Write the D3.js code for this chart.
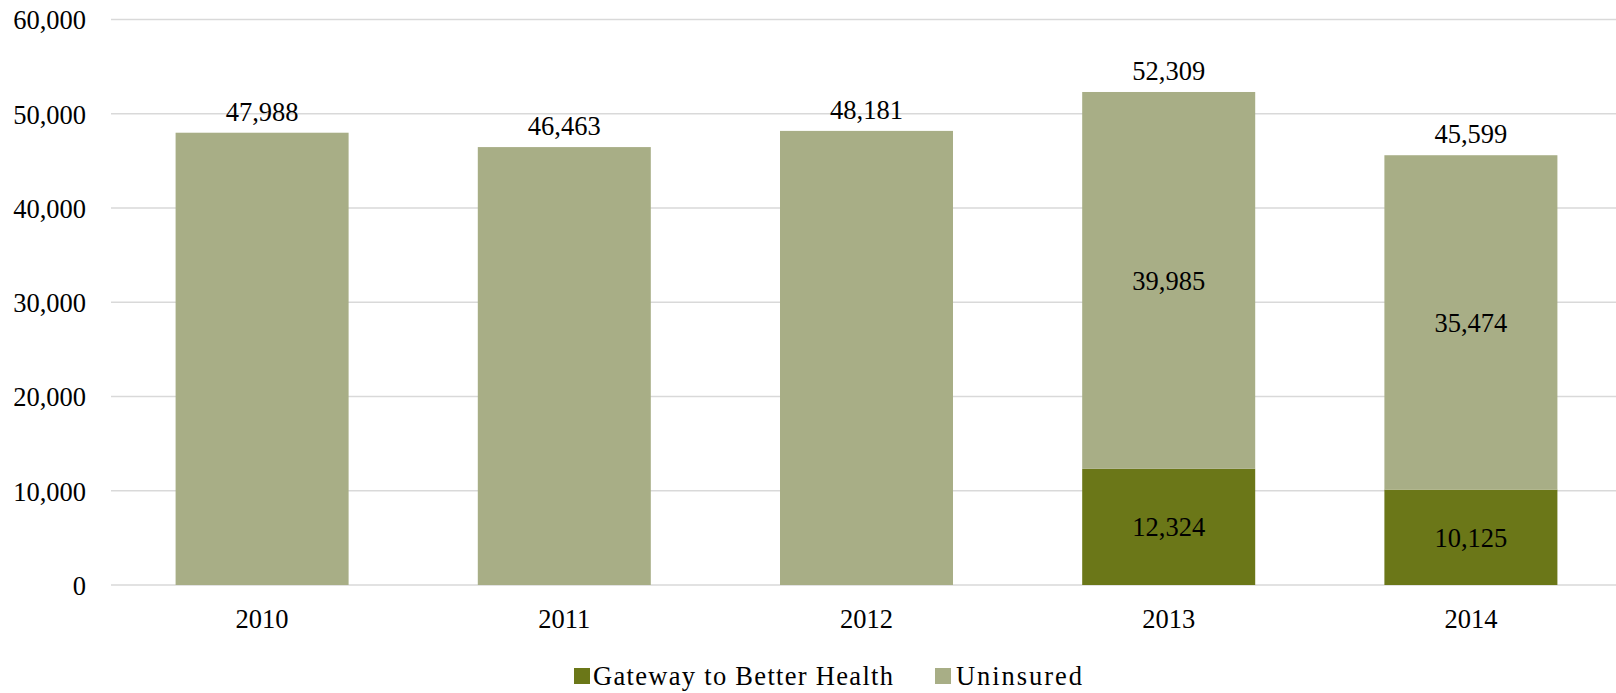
<!DOCTYPE html>
<html>
<head>
<meta charset="utf-8">
<script src="https://cdn.jsdelivr.net/npm/d3@7"></script>
<style>
  html, body { margin: 0; padding: 0; background: #fff; }
  svg { display: block; }
  text { font-family: "Liberation Serif", "Times New Roman", serif; fill: #000; }
</style>
</head>
<body>
<svg id="chart" width="1616" height="693"></svg>
<script>
const categories = ["2010", "2011", "2012", "2013", "2014"];
const gateway = [0, 0, 0, 12324, 10125];
const uninsured = [47988, 46463, 48181, 39985, 35474];
const yTicks = [0, 10000, 20000, 30000, 40000, 50000, 60000];
const seriesNames = ["Gateway to Better Health", "Uninsured"];
const seriesColors = ["#6b7718", "#a8ae86"];

const svg = d3.select("#chart");
const fontSize = 26.5;

const x = d3.scaleBand()
  .domain(categories)
  .range([111, 1622])
  .paddingInner(0.4275)
  .paddingOuter(0.4275 / 2);

const y = d3.scaleLinear().domain([0, 60000]).range([585, 19.5]);

const fmt = d3.format(",");

// gridlines
svg.append("g")
  .selectAll("line")
  .data(yTicks)
  .join("line")
  .attr("x1", 111)
  .attr("x2", 1616)
  .attr("y1", d => y(d))
  .attr("y2", d => y(d))
  .attr("stroke", "#d9d9d9")
  .attr("stroke-width", 1.5);

// y axis labels
const yAxis = d3.axisLeft(y).tickValues(yTicks).tickFormat(fmt).tickSize(0).tickPadding(0);
const yg = svg.append("g").attr("transform", "translate(86,0)").call(yAxis);
yg.select(".domain").remove();
yg.selectAll("text")
  .attr("font-size", fontSize)
  .attr("font-family", "Liberation Serif, serif")
  .attr("fill", "#000")
  .attr("dy", "0.35em");

// stacked data
const rows = categories.map((c, i) => ({ cat: c, gateway: gateway[i], uninsured: uninsured[i] }));
const stack = d3.stack().keys(["gateway", "uninsured"]);
const stacked = stack(rows);

const layers = svg.append("g").selectAll("g")
  .data(stacked)
  .join("g")
  .attr("fill", (d, i) => seriesColors[i]);

layers.selectAll("rect")
  .data(d => d)
  .join("rect")
  .attr("x", d => x(d.data.cat))
  .attr("width", x.bandwidth())
  .attr("y", d => y(d[1]))
  .attr("height", d => y(d[0]) - y(d[1]));

// segment labels (only for stacks with both segments)
const segLabels = svg.append("g");
stacked.forEach(layer => {
  layer.forEach(d => {
    if (d.data.gateway > 0) {
      const v = d[1] - d[0];
      segLabels.append("text")
        .attr("x", x(d.data.cat) + x.bandwidth() / 2)
        .attr("y", (y(d[0]) + y(d[1])) / 2)
        .attr("dy", "0.35em")
        .attr("text-anchor", "middle")
        .attr("font-size", fontSize)
        .text(fmt(v));
    }
  });
});

// total labels
svg.append("g").selectAll("text")
  .data(rows)
  .join("text")
  .attr("x", d => x(d.cat) + x.bandwidth() / 2)
  .attr("y", d => y(d.gateway + d.uninsured) - 12)
  .attr("text-anchor", "middle")
  .attr("font-size", fontSize)
  .text(d => fmt(d.gateway + d.uninsured));

// x axis labels
const xAxis = d3.axisBottom(x).tickSize(0).tickPadding(0);
const xg = svg.append("g").attr("transform", "translate(0,628)").call(xAxis);
xg.select(".domain").remove();
xg.selectAll("text")
  .attr("font-size", fontSize)
  .attr("font-family", "Liberation Serif, serif")
  .attr("fill", "#000")
  .attr("dy", 0);

// legend
const legendItems = [
  { name: seriesNames[0], color: seriesColors[0], sx: 574, tx: 593, tw: 300 },
  { name: seriesNames[1], color: seriesColors[1], sx: 935, tx: 956, tw: 126 }
];
const lg = svg.append("g");
legendItems.forEach(it => {
  lg.append("rect").attr("x", it.sx).attr("y", 668).attr("width", 16).attr("height", 16).attr("fill", it.color);
  lg.append("text")
    .attr("x", it.tx)
    .attr("y", 685)
    .attr("font-size", fontSize)
    .attr("textLength", it.tw)
    .attr("lengthAdjust", "spacing")
    .text(it.name);
});
</script>
</body>
</html>
